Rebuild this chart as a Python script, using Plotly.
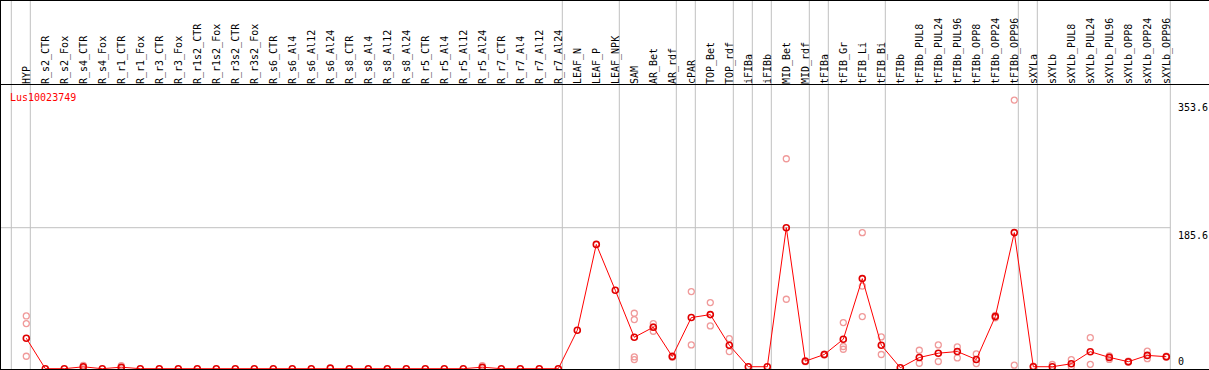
import plotly.graph_objects as go

categories = [
    "HYP",
    "R_s2_CTR", "R_s2_Fox", "R_s4_CTR", "R_s4_Fox", "R_r1_CTR", "R_r1_Fox",
    "R_r3_CTR", "R_r3_Fox", "R_r1s2_CTR", "R_r1s2_Fox", "R_r3s2_CTR", "R_r3s2_Fox",
    "R_s6_CTR", "R_s6_Al4", "R_s6_Al12", "R_s6_Al24",
    "R_s8_CTR", "R_s8_Al4", "R_s8_Al12", "R_s8_Al24",
    "R_r5_CTR", "R_r5_Al4", "R_r5_Al12", "R_r5_Al24",
    "R_r7_CTR", "R_r7_Al4", "R_r7_Al12", "R_r7_Al24",
    "LEAF_N", "LEAF_P", "LEAF_NPK",
    "SAM", "AR_Bet", "AR_rdf",
    "cPAR",
    "TOP_Bet", "TOP_rdf",
    "iFIBa", "iFIBb",
    "MID_Bet", "MID_rdf",
    "tFIBa",
    "tFIB_Gr", "tFIB_Li", "tFIB_Bi",
    "tFIBb", "tFIBb_PUL8", "tFIBb_PUL24", "tFIBb_PUL96",
    "tFIBb_OPP8", "tFIBb_OPP24", "tFIBb_OPP96",
    "sXYLa",
    "sXYLb", "sXYLb_PUL8", "sXYLb_PUL24", "sXYLb_PUL96",
    "sXYLb_OPP8", "sXYLb_OPP24", "sXYLb_OPP96",
]

mean_values = [
    40.1,
    0, 0, 2.5, 0, 2.0, 0, 0, 0, 0, 0, 0, 0,
    0, 0, 0, 0.8, 0, 0, 0, 0, 0, 0, 0, 2.0, 0, 0, 0, 0,
    50.6, 163.6, 103.2,
    41.4, 54.6, 16.0,
    67.3,
    71.2, 30.9,
    2.6, 2.6,
    185.6, 9.9,
    18.7,
    38.8, 118.6, 30.9,
    1.3, 14.7, 20.4, 22.6, 12.1, 68.6, 179.1,
    2.6,
    2.6, 6.5, 22.4, 14.9, 9.2, 17.5, 15.8,
]

replicate_values = [
    [69.4, 59.4, 16.4],
    [], [], [4.5, 1.5, 1.5], [], [4.0, 1.0, 1.0], [], [], [], [], [], [], [],
    [], [], [], [], [], [], [], [], [], [], [], [4.0, 1.0, 1.0], [], [], [], [],
    [], [], [],
    [73.0, 64.7, 15.5, 12.0], [59.4, 55.0, 49.3], [17.0, 15.0],
    [101.5, 31.3],
    [87.0, 56.3], [39.7, 22.6],
    [], [],
    [276.3, 91.4], [10.5, 9.3],
    [19.0, 18.0],
    [60.7, 29.2, 25.6], [179.0, 108.8, 68.6], [41.8, 18.7],
    [], [24.3, 7.2], [31.3, 9.5], [28.7, 14.2], [19.5, 6.8], [70.0, 67.0], [353.6, 4.6],
    [3.5],
    [5.5], [12.0, 2.5], [40.8, 5.7], [17.0, 12.2], [10.0, 8.5], [23.2, 13.2], [16.5, 15.0],
]

group_sizes = [1, 28, 3, 3, 1, 2, 1, 1, 2, 1, 3, 7, 1, 7]

gene_name = "Lus10023749"
y_tick_values = [0, 185.6, 353.6]
y_tick_labels = ["0", "185.6", "353.6"]

MONO = "DejaVu Sans Mono"
W, H = 1209, 370
ML, MR, MT, MB = 1, 0, 85, 1
plot_w = W - ML - MR
plot_h = H - MT - MB

x_idx = list(range(len(categories)))
rep_x, rep_y = [], []
for i, reps in enumerate(replicate_values):
    for v in reps:
        rep_x.append(i)
        rep_y.append(v)

fig = go.Figure()
fig.add_trace(go.Scatter(
    x=rep_x, y=rep_y, mode="markers",
    marker=dict(symbol="circle-open", size=6, color="#f09a9a", line=dict(width=1.3, color="#f09a9a")),
    cliponaxis=False, hoverinfo="skip", showlegend=False,
))
fig.add_trace(go.Scatter(
    x=x_idx, y=mean_values, mode="lines+markers",
    line=dict(color="#ff0000", width=1),
    marker=dict(symbol="circle-open", size=6, color="#e00000", line=dict(width=1.6, color="#e00000")),
    cliponaxis=False, showlegend=False,
))

# group separators
sep_off = 4 / 19
bounds = [-1 + sep_off]
acc = 0
for g in group_sizes:
    acc += g
    bounds.append(acc - 1 + sep_off)

full_top = (plot_h + MT) / plot_h
shapes = []
for b in bounds:
    shapes.append(dict(type="line", xref="x", yref="paper", x0=b, x1=b, y0=0, y1=full_top,
                       line=dict(color="#c0c0c0", width=1), layer="below"))
x_left = (ML - 26.3) / 19
x_right = (W - 26.3) / 19
# horizontal grid at middle tick
shapes.append(dict(type="line", xref="x", yref="y", x0=x_left, x1=bounds[-1], y0=y_tick_values[1], y1=y_tick_values[1],
                   line=dict(color="#c0c0c0", width=1), layer="below"))
# top border and left border of whole chart
shapes.append(dict(type="line", xref="paper", yref="paper", x0=-ML / plot_w, x1=1, y0=(plot_h + MT - 0.5) / plot_h,
                   y1=(plot_h + MT - 0.5) / plot_h, line=dict(color="black", width=1)))
shapes.append(dict(type="line", xref="paper", yref="paper", x0=-0.5 / plot_w, x1=-0.5 / plot_w, y0=0,
                   y1=full_top, line=dict(color="black", width=1)))

annotations = [dict(
    text=gene_name, xref="paper", yref="paper", x=(8 - ML) / plot_w, y=(plot_h - (97.7 - MT)) / plot_h,
    xanchor="left", yanchor="middle", showarrow=False, font=dict(family=MONO, size=10, color="#ff0000"),
)]
for v, lab in zip(y_tick_values, y_tick_labels):
    annotations.append(dict(
        text=lab, xref="paper", yref="y", x=(1176 - ML) / plot_w, y=v,
        xanchor="left", yanchor="bottom" if v == 0 else "top", showarrow=False,
        font=dict(family=MONO, size=10, color="black"),
    ))

fig.update_layout(
    width=W, height=H, autosize=False,
    margin=dict(l=ML, r=MR, t=MT, b=MB, pad=0, autoexpand=False),
    paper_bgcolor="white", plot_bgcolor="white",
    shapes=shapes, annotations=annotations,
    xaxis=dict(
        range=[x_left, x_right], side="top", tickmode="array", tickvals=x_idx, ticktext=categories,
        tickangle=-90, tickfont=dict(family=MONO, size=10, color="black"), ticks="",
        ticklabelstandoff=-2,
        showgrid=False, zeroline=False, showline=True, mirror=True, linecolor="black", linewidth=1,
        fixedrange=True, automargin=False,
    ),
    yaxis=dict(
        range=[-0.395, 373.4], showgrid=False, zeroline=False, showticklabels=False, ticks="",
        showline=True, linecolor="black", linewidth=1, fixedrange=True, automargin=False,
    ),
)

fig.write_html(
    "out.html",
    config={"displayModeBar": False, "staticPlot": True},
    post_script="document.body.style.margin='0';document.body.style.overflow='hidden';",
)
